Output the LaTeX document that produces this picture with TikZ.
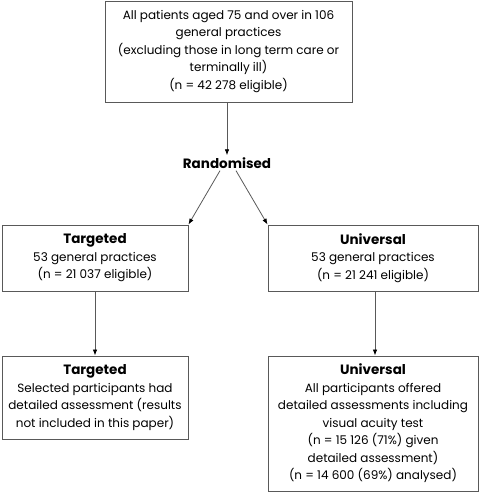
\documentclass[tikz,border=0pt]{standalone}
\usepackage{fontspec}
\setmainfont{Poppins}
\usetikzlibrary{arrows.meta}
\newcommand\myhead[1]{{\fontsize{13.5}{17.5}\selectfont\bfseries #1}}
\begin{document}
\begin{tikzpicture}[x=1pt,y=-1pt,
  box/.style={draw=black!65,line width=0.9pt,align=center,inner sep=0pt,
    font=\fontsize{12}{17.5}\selectfont},
  arr/.style={draw=black!65,line width=0.8pt,-{Latex[length=6pt,width=4.5pt,black]}}]
\useasboundingbox (0,0) rectangle (480,492);
\node[box,minimum width=247pt,minimum height=101pt] (top) at (228.5,51.5)
  {All patients aged 75 and over in 106\\general practices\\(excluding those in long term care or\\terminally ill)\\(n = 42 278 eligible)};
\node[font=\fontsize{13.5}{17.5}\selectfont\bfseries,inner sep=2pt] (rand) at (227,163) {Randomised};
\node[box,minimum width=186pt,minimum height=66pt] (tgt1) at (95,258)
  {\myhead{Targeted}\\53 general practices\\(n = 21 037 eligible)};
\node[box,minimum width=210pt,minimum height=66pt] (uni1) at (373,258)
  {\myhead{Universal}\\53 general practices\\(n = 21 241 eligible)};
\node[box,minimum width=186pt,minimum height=83pt] (tgt2) at (95,397.5)
  {\myhead{Targeted}\\Selected participants had\\detailed assessment (results\\not included in this paper)};
\node[box,minimum width=210pt,minimum height=135pt] (uni2) at (373,423.5)
  {\myhead{Universal}\\All participants offered\\detailed assessments including\\visual acuity test\\(n = 15 126 (71\%) given\\detailed assessment)\\(n = 14 600 (69\%) analysed)};
\draw[arr] (top.south -| rand) -- (rand.north);
\draw[arr] ([xshift=-7pt]rand.south) -- (tgt1.north east);
\draw[arr] ([xshift=9pt]rand.south) -- (uni1.north west);
\draw[arr] (tgt1.south) -- (tgt2.north);
\draw[arr] ([xshift=2pt]uni1.south) -- ([xshift=2pt]uni2.north);
\end{tikzpicture}
\end{document}
